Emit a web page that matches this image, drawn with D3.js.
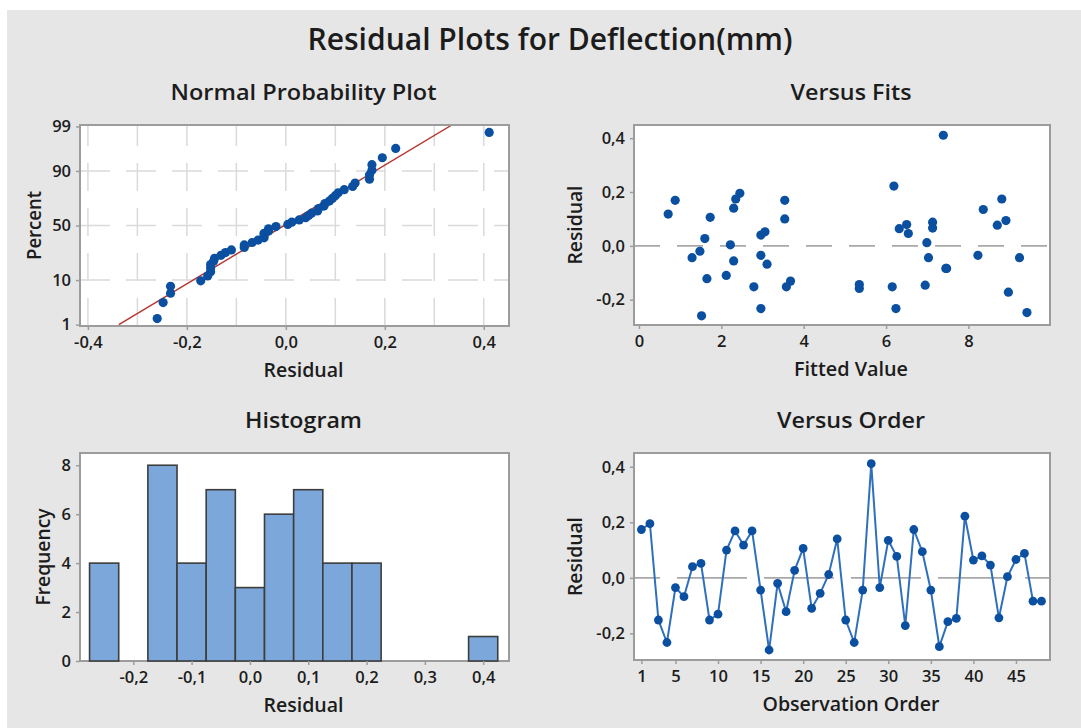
<!DOCTYPE html>
<html>
<head>
<meta charset="utf-8">
<script src="https://cdn.jsdelivr.net/npm/d3@7/dist/d3.min.js"></script>
<style>
  body { margin: 0; background: #fff; }
  svg text { font-family: "Open Sans", "Noto Sans", sans-serif; fill: #1c1c1c; }
</style>
</head>
<body>
<div id="chart"></div>
<script>
// residuals in observation order, read from "Versus Order"
let residuals = [
  0.174, 0.195, -0.152, -0.233, -0.035, -0.068, 0.040, 0.052, -0.152, -0.131,
  0.100, 0.169, 0.118, 0.169, -0.044, -0.260, -0.020, -0.122, 0.027, 0.106,
  -0.110, -0.056, 0.012, 0.140, -0.152, -0.233, -0.044, 0.411, -0.035, 0.135,
  0.077, -0.172, 0.174, 0.094, -0.044, -0.248, -0.158, -0.146, 0.222, 0.064,
  0.079, 0.046, -0.144, 0.004, 0.066, 0.088, -0.084, -0.084
];

// fitted values, same order, read from "Versus Fits"
let fittedValues = [
  2.35, 2.45, 2.79, 2.96, 2.96, 3.11, 2.96, 3.06, 3.58, 3.68,
  3.54, 0.88, 0.71, 3.54, 1.29, 1.52, 1.48, 1.65, 1.60, 1.73,
  2.12, 2.30, 6.99, 2.30, 6.15, 6.24, 7.03, 7.39, 8.23, 8.36,
  8.70, 8.97, 8.81, 8.91, 9.24, 9.42, 5.35, 6.95, 6.19, 6.32,
  6.50, 6.54, 5.35, 2.22, 7.13, 7.13, 7.47, 7.45
];

// histogram
let histMids   = [-0.25, -0.20, -0.15, -0.10, -0.05, 0.00, 0.05, 0.10, 0.15, 0.20, 0.25, 0.30, 0.35, 0.40];
let histCounts = [4, 0, 8, 4, 7, 3, 6, 7, 4, 4, 0, 0, 0, 1];

// tick labels
let probTicks     = [1, 10, 50, 90, 99];
let probGrid      = [10, 50, 90];
let residTicksX   = [-0.4, -0.2, 0.0, 0.2, 0.4];
let residGridX    = [-0.4, -0.3, -0.2, -0.1, 0.0, 0.1, 0.2, 0.3, 0.4];
let residTicksY   = [-0.2, 0.0, 0.2, 0.4];
let fitTicks      = [0, 2, 4, 6, 8];
let histTicksX    = [-0.2, -0.1, 0.0, 0.1, 0.2, 0.3, 0.4];
let freqTicks     = [0, 2, 4, 6, 8];
let orderTicks    = [1, 5, 10, 15, 20, 25, 30, 35, 40, 45];

let kColors = {
  bg: "#e6e6e6",
  frame: "#9c9c9c",
  grid: "#dadada",
  refLine: "#a8a8a8",
  dot: "#0b4fa1",
  orderLine: "#2f70be",
  fitLine: "#b5332e",
  barFill: "#7ba7da",
  barStroke: "#3d3d3d"
};

let W = 1081, H = 728;

function fmt(v){
  let s = d3.format(".1f")(v).replace(".", ",").replace("−", "-");
  return s;
}

// inverse normal cdf (Acklam)
function qnorm(p){
  let a = [-3.969683028665376e+01, 2.209460984245205e+02, -2.759285104469687e+02, 1.383577518672690e+02, -3.066479806614716e+01, 2.506628277459239e+00];
  let b = [-5.447609879822406e+01, 1.615858368580409e+02, -1.556989798598866e+02, 6.680131188771972e+01, -1.328068155288572e+01];
  let c = [-7.784894002430293e-03, -3.223964580411365e-01, -2.400758277161838e+00, -2.549732539343734e+00, 4.374664141464968e+00, 2.938163982698783e+00];
  let d = [7.784695709041462e-03, 3.224671290700398e-01, 2.445134137142996e+00, 3.754408661907416e+00];
  let pl = 0.02425, q, r;
  if (p < pl) {
    q = Math.sqrt(-2 * Math.log(p));
    return (((((c[0]*q+c[1])*q+c[2])*q+c[3])*q+c[4])*q+c[5]) / ((((d[0]*q+d[1])*q+d[2])*q+d[3])*q+1);
  }
  if (p > 1 - pl) {
    q = Math.sqrt(-2 * Math.log(1 - p));
    return -(((((c[0]*q+c[1])*q+c[2])*q+c[3])*q+c[4])*q+c[5]) / ((((d[0]*q+d[1])*q+d[2])*q+d[3])*q+1);
  }
  q = p - 0.5; r = q * q;
  return (((((a[0]*r+a[1])*r+a[2])*r+a[3])*r+a[4])*r+a[5])*q / (((((b[0]*r+b[1])*r+b[2])*r+b[3])*r+b[4])*r+1);
}

let svg = d3.select("#chart").append("svg")
  .attr("width", W).attr("height", H);

svg.append("rect").attr("width", W).attr("height", H).attr("fill", "#fff");
svg.append("rect").attr("x", 7).attr("y", 10).attr("width", W - 7).attr("height", H - 10)
  .attr("fill", kColors.bg);

// main title
svg.append("text")
  .attr("x", 550).attr("y", 50)
  .attr("text-anchor", "middle")
  .attr("font-size", 30).attr("font-weight", 600)
  .attr("textLength", 485).attr("lengthAdjust", "spacingAndGlyphs")
  .text("Residual Plots for Deflection(mm)");


function drawPanel(p){
  let g = svg.append("g");
  g.append("rect")
    .attr("x", p.x0).attr("y", p.y0)
    .attr("width", p.x1 - p.x0).attr("height", p.y1 - p.y0)
    .attr("fill", "#fff");
  return g;
}

function drawFrame(g, p){
  g.append("rect")
    .attr("x", p.x0).attr("y", p.y0)
    .attr("width", p.x1 - p.x0).attr("height", p.y1 - p.y0)
    .attr("fill", "none").attr("stroke", kColors.frame).attr("stroke-width", 2);
}

function drawTitles(g, p, title, titleLen, xLabel, xLen, yLabel, yLen, yLabelX){
  let cx = (p.x0 + p.x1) / 2 + 9;
  g.append("text").attr("x", cx).attr("y", p.y0 - 25)
    .attr("text-anchor", "middle").attr("font-size", 22).attr("font-weight", 600)
    .attr("textLength", titleLen).attr("lengthAdjust", "spacingAndGlyphs")
    .text(title);
  g.append("text").attr("x", cx).attr("y", p.y1 + 51)
    .attr("text-anchor", "middle").attr("font-size", 20).attr("font-weight", 600)
    .attr("textLength", xLen).attr("lengthAdjust", "spacingAndGlyphs")
    .text(xLabel);
  g.append("text")
    .attr("transform", "translate(" + yLabelX + "," + ((p.y0 + p.y1) / 2) + ") rotate(-90)")
    .attr("text-anchor", "middle").attr("dy", "0.35em")
    .attr("font-size", 20).attr("font-weight", 600)
    .attr("textLength", yLen).attr("lengthAdjust", "spacingAndGlyphs")
    .text(yLabel);
}

function drawXAxis(g, p, scale, ticks, format){
  let ax = d3.axisBottom(scale).tickValues(ticks).tickSize(4).tickPadding(6).tickFormat(format);
  let a = g.append("g").attr("transform", "translate(0," + p.y1 + ")").call(ax);
  a.select(".domain").remove();
  a.selectAll("line").attr("stroke", kColors.frame).attr("stroke-width", 1.5);
  a.selectAll("text").attr("font-size", 16.5).attr("font-weight", 600)
    .attr("font-family", "Open Sans, Noto Sans, sans-serif").attr("fill", "#222");
}

function drawYAxis(g, p, scale, ticks, format){
  let ax = d3.axisLeft(scale).tickValues(ticks).tickSize(4).tickPadding(5).tickFormat(format);
  let a = g.append("g").attr("transform", "translate(" + p.x0 + ",0)").call(ax);
  a.select(".domain").remove();
  a.selectAll("line").attr("stroke", kColors.frame).attr("stroke-width", 1.5);
  a.selectAll("text").attr("font-size", 16.5).attr("font-weight", 600)
    .attr("font-family", "Open Sans, Noto Sans, sans-serif").attr("fill", "#222");
}


// ---------- Normal Probability Plot ----------
function drawProbPlot(){
  let p = {x0: 80, x1: 509, y0: 125, y1: 326};
  let g = drawPanel(p);
  let n = residuals.length;

  let x = d3.scaleLinear().domain([-0.416, 0.451]).range([p.x0, p.x1]);
  let y = d3.scaleLinear().domain([-2.36, 2.36]).range([p.y1, p.y0]);

  // grid
  residGridX.forEach(function(v){
    g.append("line")
      .attr("x1", x(v)).attr("x2", x(v)).attr("y1", p.y1).attr("y2", p.y0)
      .attr("stroke", kColors.grid).attr("stroke-width", 1.5)
      .attr("stroke-dasharray", "28,17");
  });
  probGrid.forEach(function(v){
    let yy = y(qnorm(v / 100));
    g.append("line")
      .attr("x1", p.x0).attr("x2", p.x1).attr("y1", yy).attr("y2", yy)
      .attr("stroke", kColors.grid).attr("stroke-width", 1.5)
      .attr("stroke-dasharray", "30,16");
  });

  // fitted normal line
  let mu = d3.mean(residuals);
  let sd = d3.deviation(residuals);
  let zs = y.domain();
  let clipId = "clipProb";
  svg.append("clipPath").attr("id", clipId).append("rect")
    .attr("x", p.x0).attr("y", p.y0).attr("width", p.x1 - p.x0).attr("height", p.y1 - p.y0);
  g.append("line")
    .attr("clip-path", "url(#" + clipId + ")")
    .attr("x1", x(mu + sd * qnorm(0.01))).attr("y1", y(qnorm(0.01)))
    .attr("x2", x(mu + sd * zs[1])).attr("y2", y(zs[1]))
    .attr("stroke", kColors.fitLine).attr("stroke-width", 1.4);

  let sorted = residuals.slice().sort(d3.ascending);
  g.selectAll("circle.pp").data(sorted).enter().append("circle")
    .attr("cx", function(d){ return x(d); })
    .attr("cy", function(d, i){ return y(qnorm((i + 1 - 0.3) / (n + 0.4))); })
    .attr("r", 4.6)
    .attr("fill", kColors.dot);

  drawFrame(g, p);
  drawXAxis(g, p, x, residTicksX, fmt);
  let yt = d3.scaleLinear().domain(y.domain()).range(y.range());
  let ax = d3.axisLeft(y)
    .tickValues(probTicks.map(function(v){ return qnorm(v / 100); }))
    .tickSize(4).tickPadding(5)
    .tickFormat(function(d, i){ return probTicks[i]; });
  let a = g.append("g").attr("transform", "translate(" + p.x0 + ",0)").call(ax);
  a.select(".domain").remove();
  a.selectAll("line").attr("stroke", kColors.frame).attr("stroke-width", 1.5);
  a.selectAll("text").attr("font-size", 16.5).attr("font-weight", 600)
    .attr("font-family", "Open Sans, Noto Sans, sans-serif").attr("fill", "#222");

  drawTitles(g, p, "Normal Probability Plot", 266, "Residual", 80, "Percent", 69, 34);
}


// ---------- Versus Fits ----------
function drawFitsPlot(){
  let p = {x0: 634, x1: 1050, y0: 125, y1: 325};
  let g = drawPanel(p);

  let x = d3.scaleLinear().domain([-0.12, 9.98]).range([p.x0, p.x1]);
  let y = d3.scaleLinear().domain([-0.294, 0.449]).range([p.y1, p.y0]);

  g.append("line")
    .attr("x1", p.x0).attr("x2", p.x1).attr("y1", y(0)).attr("y2", y(0))
    .attr("stroke", kColors.refLine).attr("stroke-width", 1.8)
    .attr("stroke-dasharray", "26,17");

  g.selectAll("circle.fv").data(residuals).enter().append("circle")
    .attr("cx", function(d, i){ return x(fittedValues[i]); })
    .attr("cy", function(d){ return y(d); })
    .attr("r", 4.6)
    .attr("fill", kColors.dot);

  drawFrame(g, p);
  drawXAxis(g, p, x, fitTicks, d3.format("d"));
  drawYAxis(g, p, y, residTicksY, fmt);
  drawTitles(g, p, "Versus Fits", 121, "Fitted Value", 114, "Residual", 79, 575);
}


// ---------- Histogram ----------
function drawHistogram(){
  let p = {x0: 80, x1: 509, y0: 453, y1: 661};
  let g = drawPanel(p);

  let x = d3.scaleLinear().domain([-0.2914, 0.4443]).range([p.x0, p.x1]);
  let y = d3.scaleLinear().domain([0, 8.5]).range([p.y1, p.y0]);
  let bw = histMids[1] - histMids[0];

  drawFrame(g, p);

  g.selectAll("rect.bar").data(histCounts).enter().append("rect")
    .attr("x", function(d, i){ return x(histMids[i] - bw / 2); })
    .attr("y", function(d){ return y(d); })
    .attr("width", function(d, i){ return x(histMids[i] + bw / 2) - x(histMids[i] - bw / 2); })
    .attr("height", function(d){ return y(0) - y(d); })
    .attr("fill", kColors.barFill)
    .attr("stroke", kColors.barStroke).attr("stroke-width", 1.6);

  drawXAxis(g, p, x, histTicksX, fmt);
  drawYAxis(g, p, y, freqTicks, d3.format("d"));
  drawTitles(g, p, "Histogram", 117, "Residual", 80, "Frequency", 97, 43);
}


// ---------- Versus Order ----------
function drawOrderPlot(){
  let p = {x0: 634, x1: 1050, y0: 453, y1: 660};
  let g = drawPanel(p);

  let x = d3.scaleLinear().domain([0.13, 49.0]).range([p.x0, p.x1]);
  let y = d3.scaleLinear().domain([-0.296, 0.4496]).range([p.y1, p.y0]);

  g.append("line")
    .attr("x1", p.x0).attr("x2", p.x1).attr("y1", y(0)).attr("y2", y(0))
    .attr("stroke", kColors.refLine).attr("stroke-width", 1.8)
    .attr("stroke-dasharray", "70,17").attr("stroke-dashoffset", 44);

  let line = d3.line()
    .x(function(d, i){ return x(i + 1); })
    .y(function(d){ return y(d); });

  g.append("path").datum(residuals)
    .attr("d", line)
    .attr("fill", "none")
    .attr("stroke", kColors.orderLine).attr("stroke-width", 2);

  g.selectAll("circle.ov").data(residuals).enter().append("circle")
    .attr("cx", function(d, i){ return x(i + 1); })
    .attr("cy", function(d){ return y(d); })
    .attr("r", 4.4)
    .attr("fill", kColors.dot);

  drawFrame(g, p);
  drawXAxis(g, p, x, orderTicks, d3.format("d"));
  drawYAxis(g, p, y, residTicksY, fmt);
  drawTitles(g, p, "Versus Order", 148, "Observation Order", 177, "Residual", 79, 575);
}

drawProbPlot();
drawFitsPlot();
drawHistogram();
drawOrderPlot();
</script>
</body>
</html>
